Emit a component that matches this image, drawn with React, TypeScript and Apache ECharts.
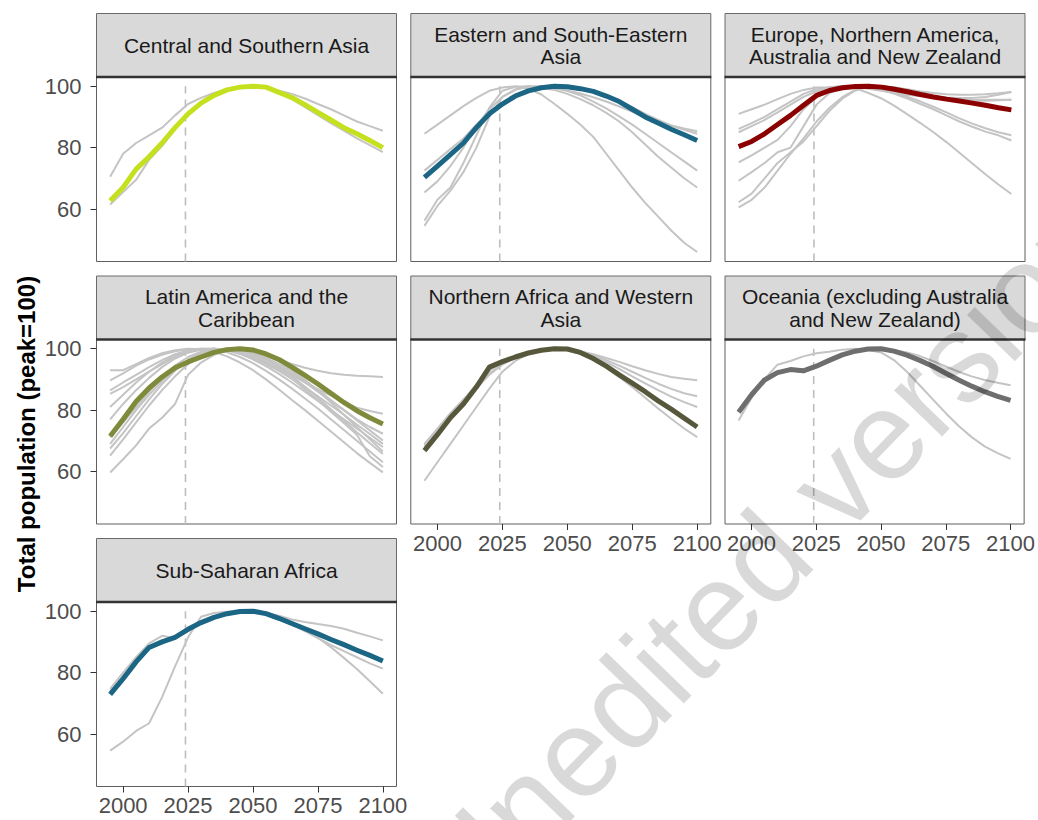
import React, { useEffect, useRef } from "react";
import * as echarts from "echarts";

// ---------- data ----------
const YEARS = [1995, 2000, 2005, 2010, 2015, 2020, 2025, 2030, 2035, 2040, 2045, 2050, 2055, 2060, 2065, 2070, 2075, 2080, 2085, 2090, 2095, 2100];
const BASE_YEAR = 2024;
const X_TICKS = [2000, 2025, 2050, 2075, 2100];
const Y_TICKS = [60, 80, 100];

// Central and Southern Asia
const csaMain = [62.7, 67, 73, 77, 81.5, 86.5, 91, 94.5, 97, 98.8, 99.7, 100, 99.7, 98, 96.3, 94, 91.5, 89, 86.5, 84.5, 82.3, 80];
const csaG1 = [70.5, 78, 81.5, 84, 86.5, 90.5, 94.2, 96.2, 97.8, 99, 99.7, 100, 99.5, 98.5, 97.5, 96, 94.2, 92.5, 90.5, 88.5, 87, 85.5];
const csaG2 = [61.5, 65.5, 69.5, 76, 80.5, 86, 91, 94.5, 97, 98.8, 99.7, 100, 99.6, 98, 95.8, 93.2, 90.6, 88, 85.5, 83, 80.8, 78.5];

// Eastern and South-Eastern Asia
const eseMain = [70.3, 74, 77.7, 81.5, 86.5, 91, 94.2, 96.8, 98.5, 99.5, 100, 99.8, 99.2, 98.3, 96.8, 95, 92.5, 90, 88, 86, 84.2, 82.3];
const eseG1 = [84.5, 87.5, 90.5, 93.5, 96.2, 98.5, 99.6, 100, 99.2, 97.3, 94.3, 91, 87.5, 83.5, 78, 72.5, 67, 62, 57.5, 53, 49, 46];
const eseG2 = [56.2, 63, 67, 75, 84, 93, 98.5, 99.8, 100, 99.6, 98.8, 97.5, 95.8, 93.8, 91.3, 88.5, 85, 81, 77, 73.5, 70, 67];
const eseG3 = [65.4, 69, 74, 80, 87, 92.5, 96.5, 98.8, 99.8, 100, 99.5, 98.4, 97, 95, 92.8, 90.2, 87.5, 84.5, 81.5, 78.5, 75.5, 72.5];
const eseG4 = [72.5, 76, 79.5, 83, 87.5, 91.5, 94.7, 97, 98.6, 99.6, 100, 99.9, 99.3, 98.4, 97, 95.3, 93.2, 91, 89, 87.2, 85.8, 84.5];
const eseG5 = [54.5, 61, 66, 72, 80, 90, 96.5, 99, 100, 99.8, 99.3, 98.6, 97.6, 96.4, 95, 93.4, 91.7, 90, 88.5, 87.2, 86.2, 85.3];

// Europe, Northern America, Australia and New Zealand
const enaMain = [80.3, 82, 84.5, 87.5, 90.5, 93.8, 97, 98.6, 99.5, 99.9, 100, 99.7, 99, 98.2, 97.3, 96.5, 95.8, 95.2, 94.5, 93.8, 93, 92.3];
const enaG1 = [91, 92.5, 94, 95.8, 97.5, 98.8, 99.6, 99.7, 100, 99.3, 97.8, 96, 93.6, 90.8, 88, 85, 81.8, 78.3, 74.8, 71.3, 68, 64.9];
const enaG2 = [86.1, 88, 90, 92.5, 95, 97.5, 99, 99.7, 100, 99.8, 99.3, 98.7, 98, 97.3, 96.8, 96.5, 96.3, 96.2, 96.2, 96.5, 97.2, 98.1];
const enaG3 = [85, 87, 89, 91.5, 94, 96.5, 98.3, 99.5, 100, 99.8, 99.2, 98.5, 97.8, 97.2, 96.8, 96.4, 96.1, 95.9, 95.7, 95.6, 95.6, 95.6];
const enaG4 = [75.2, 77.5, 80, 82.5, 87, 92.5, 96.5, 98.8, 99.8, 100, 99.6, 98.8, 97.5, 96, 94.2, 92.5, 90.5, 88.5, 86.8, 85.2, 84, 82.3];
const enaG5 = [69.2, 72, 75, 78.5, 80, 87, 94, 97.8, 99.5, 100, 99.8, 99, 98, 96.6, 95, 93.3, 91.5, 89.5, 87.8, 86.3, 85, 84];
const enaG6 = [62.2, 65, 70, 75, 78.5, 82, 87, 92, 96, 98.6, 99.8, 100, 99.6, 98.8, 97.8, 96.8, 96, 95.5, 95.3, 95.3, 95.4, 95.6];
const enaG7 = [60.5, 63, 67, 72.5, 78, 83, 88.5, 93, 96.5, 98.8, 99.8, 100, 99.6, 99, 98.3, 97.8, 97.4, 97.2, 97.2, 97.4, 97.7, 98.1];

// Latin America and the Caribbean
const lacMain = [71.5, 77, 82.8, 87.2, 90.8, 93.8, 95.7, 97.3, 98.8, 99.7, 100, 99.6, 98.3, 96.5, 94, 91.3, 88.5, 85.5, 82.5, 79.8, 77.5, 75.5];
const lacG1 = [93, 93, 95, 97, 98.5, 99.5, 100, 99.8, 99, 97.5, 95.5, 93, 90, 86.7, 83.3, 80, 76.5, 73, 69.5, 66, 62.8, 59.7];
const lacG2 = [89.7, 92, 94.5, 96.5, 98, 99.2, 99.8, 100, 99.7, 98.8, 97.3, 95.3, 92.8, 90, 87, 83.8, 80.5, 77, 73.5, 70, 66.5, 63];
const lacG3 = [86.4, 89, 91.5, 94, 96.3, 98.2, 99.4, 100, 100, 99.5, 98.5, 97, 95, 92.8, 90.2, 87.5, 84.5, 81.5, 78.5, 75.3, 72.2, 69];
const lacG4 = [85.3, 87.5, 90, 92.5, 95, 97.3, 98.8, 99.7, 100, 99.8, 99.3, 98.5, 97.5, 96.3, 95, 93.8, 92.8, 92, 91.5, 91.2, 91, 90.8];
const lacG5 = [81, 85, 89, 92.5, 95.5, 97.8, 99.2, 99.9, 100, 99.5, 98.3, 96.5, 94.3, 91.8, 89, 86, 83, 80, 77, 74, 71, 68];
const lacG6 = [71.2, 76, 81, 86, 90.5, 94.5, 97.3, 99, 99.8, 100, 99.5, 98.3, 96.5, 94.3, 91.8, 89, 86, 83, 80, 77, 74.5, 72.3];
const lacG7 = [69, 74.5, 80, 85, 89.5, 93.5, 96.5, 98.5, 99.6, 100, 99.6, 98.6, 97, 95, 92.5, 89.6, 86.5, 83.3, 80, 76.7, 73.4, 70.1];
const lacG8 = [65.2, 70.5, 76, 81.5, 86.5, 91, 95, 97.8, 99.4, 100, 99.7, 98.5, 96.5, 94, 91, 87.6, 84, 80.3, 76.5, 72.8, 69.2, 65.7];
const lacG9 = [59.7, 64, 68.5, 74, 77.5, 82, 91.5, 95.5, 98, 99.5, 100, 99.5, 98, 95.8, 93, 89.8, 86.3, 82.5, 78.5, 74.5, 70.5, 66.5];
const lacG10 = [77, 82, 86.5, 90.5, 94, 96.8, 98.7, 99.7, 100, 99.6, 98.7, 97.3, 95.5, 93.5, 91.3, 89, 86.8, 84.7, 82.7, 80.8, 79.7, 78.8];
const lacG11 = [67.5, 72.5, 78, 83.5, 88.5, 92.8, 96.2, 98.4, 99.6, 100, 99.4, 97.9, 95.8, 93.2, 90.2, 86.8, 83.2, 79.5, 75.8, 72, 65, 61.5];

// Northern Africa and Western Asia
const nawaMain = [66.8, 72, 77.5, 82, 87.5, 94, 95.8, 97.3, 98.6, 99.5, 100, 99.9, 98.8, 96.8, 94.3, 91.5, 88.8, 86, 83, 80.3, 77.4, 74.5];
const nawaG1 = [57, 63, 69, 75, 81, 87, 92.5, 96, 98.3, 99.5, 100, 99.6, 98.3, 96.3, 93.8, 90.8, 87.5, 84, 80.5, 77.2, 74, 71.2];
const nawaG2 = [68, 73, 78, 82.5, 87, 91.5, 94.8, 97, 98.6, 99.6, 100, 99.8, 99.2, 98.2, 97, 95.7, 94.3, 93, 91.8, 90.8, 90.2, 89.7];
const nawaG3 = [69, 74, 79, 83.5, 88, 92, 95, 97.2, 98.7, 99.6, 100, 99.8, 99, 97.8, 96.3, 94.5, 92.5, 90.5, 88.6, 86.9, 85.5, 84.5];
const nawaG4 = [68.5, 73.5, 78.5, 83, 88.5, 93, 95.5, 97.3, 98.7, 99.6, 100, 99.8, 98.9, 97.4, 95.6, 93.4, 91, 88.7, 86.5, 84.4, 82.6, 81];

// Oceania (excluding Australia and New Zealand)
const oceMain = [79.3, 85, 89.8, 92.2, 93.2, 92.8, 94.3, 96.2, 98, 99.2, 99.9, 100, 99.2, 97.9, 96.2, 94.3, 92, 89.8, 87.8, 86, 84.5, 83.2];
const oceG1 = [76.6, 84, 90, 94.8, 96, 97.5, 98.5, 99, 99.7, 100, 99.6, 98.8, 96.3, 92.5, 88, 83.5, 79, 74.8, 71.2, 68.2, 66, 64.1];
const oceG2 = [80, 85.5, 90, 92, 93, 92.3, 94, 96, 97.8, 99, 99.8, 100, 99.6, 98.8, 97.6, 96, 94.2, 92.5, 91, 89.8, 88.9, 88.1];

// Sub-Saharan Africa
const ssaMain = [72.9, 78, 83.5, 88.2, 90, 91.5, 94.1, 96.3, 98, 99.2, 99.9, 100, 99.2, 97.7, 96, 94.3, 92.6, 90.8, 89.1, 87.3, 85.6, 83.8];
const ssaG1 = [54.6, 57.5, 61, 63.5, 72, 82, 91.5, 98.2, 99.4, 99.8, 100, 99.8, 98.8, 97.2, 95.5, 93.6, 91.4, 88.3, 84.8, 81.2, 77.2, 73.1];
const ssaG2 = [74.7, 80, 85, 89.5, 92, 91.2, 93.5, 96, 98, 99.3, 99.9, 100, 99.5, 98.5, 97.3, 96.5, 95.8, 95.2, 94.3, 93, 91.8, 90.5];
const ssaG3 = [74, 79, 84, 88.5, 90.5, 91.2, 93.8, 96.2, 98, 99.2, 99.9, 100, 99.3, 97.8, 95.8, 93.5, 91.2, 89, 87, 85, 83, 81.3];

const PANELS = [
  { title: "Central and Southern Asia", color: "#c5e01e", main: csaMain, greys: [csaG1, csaG2] },
  { title: "Eastern and South-Eastern\nAsia", color: "#1b6585", main: eseMain, greys: [eseG1, eseG2, eseG3, eseG4, eseG5] },
  { title: "Europe, Northern America,\nAustralia and New Zealand", color: "#8b0000", main: enaMain, greys: [enaG1, enaG2, enaG3, enaG4, enaG5, enaG6, enaG7] },
  { title: "Latin America and the\nCaribbean", color: "#7f8a3b", main: lacMain, greys: [lacG1, lacG2, lacG3, lacG4, lacG5, lacG6, lacG7, lacG8, lacG9, lacG10, lacG11] },
  { title: "Northern Africa and Western\nAsia", color: "#57583b", main: nawaMain, greys: [nawaG1, nawaG2, nawaG3, nawaG4] },
  { title: "Oceania (excluding Australia\nand New Zealand)", color: "#6e6e6e", main: oceMain, greys: [oceG1, oceG2] },
  { title: "Sub-Saharan Africa", color: "#1b6585", main: ssaMain, greys: [ssaG1, ssaG2, ssaG3] },
];

// ---------- layout ----------
const X_MIN = 1989.75;
const X_MAX = 2105.25;
const Y_MIN = 42.9;
const Y_MAX = 103;
const COL_LEFT = [96.5, 410.8, 725];
const ROW_TOP = [77, 339.5, 602];
const PLOT_W = 300;
const PLOT_H = 184.5;
const STRIP_H = 63.5;
const FONT = '"Liberation Sans", Arial, sans-serif';

const toPoints = (vals: number[]) => YEARS.map((y, i) => [y, vals[i]]);

export default function App() {
  const ref = useRef<HTMLDivElement>(null);

  useEffect(() => {
    if (!ref.current) return;
    const chart = echarts.init(ref.current, null, { renderer: "svg" });

    const grids: any[] = [];
    const xAxes: any[] = [];
    const yAxes: any[] = [];
    const series: any[] = [];
    const graphics: any[] = [];

    PANELS.forEach((p, i) => {
      const r = Math.floor(i / 3);
      const c = i % 3;
      const left = COL_LEFT[c];
      const top = ROW_TOP[r];
      const showX = i >= 4;
      const showY = c === 0;

      grids.push({
        left,
        top,
        width: PLOT_W,
        height: PLOT_H,
        show: true,
        backgroundColor: "#ffffff",
        borderColor: "#5f5f5f",
        borderWidth: 1,
        containLabel: false,
      });

      xAxes.push({
        type: "value",
        gridIndex: i,
        min: X_MIN,
        max: X_MAX,
        axisLine: { show: false },
        splitLine: { show: false },
        axisTick: {
          show: showX,
          customValues: X_TICKS,
          length: 6,
          lineStyle: { color: "#333333", width: 1 },
        },
        axisLabel: {
          show: showX,
          customValues: X_TICKS,
          formatter: (v: number) => String(Math.round(v)),
          color: "#4d4d4d",
          fontSize: 22,
          fontFamily: FONT,
          margin: 8,
        },
      });

      yAxes.push({
        type: "value",
        gridIndex: i,
        min: Y_MIN,
        max: Y_MAX,
        axisLine: { show: false },
        splitLine: { show: false },
        axisTick: {
          show: showY,
          customValues: Y_TICKS,
          length: 6,
          lineStyle: { color: "#333333", width: 1 },
        },
        axisLabel: {
          show: showY,
          customValues: Y_TICKS,
          formatter: (v: number) => String(Math.round(v)),
          color: "#4d4d4d",
          fontSize: 22,
          fontFamily: FONT,
          margin: 15,
        },
      });

      // reference year dashed line
      series.push({
        type: "line",
        xAxisIndex: i,
        yAxisIndex: i,
        data: [
          [BASE_YEAR, Y_MIN],
          [BASE_YEAR, 100],
        ],
        showSymbol: false,
        symbol: "none",
        silent: true,
        z: 1,
        lineStyle: { color: "#bdbdbd", width: 1.6, type: [8, 6] },
      });

      p.greys.forEach((g) => {
        series.push({
          type: "line",
          xAxisIndex: i,
          yAxisIndex: i,
          data: toPoints(g),
          showSymbol: false,
          symbol: "none",
          silent: true,
          z: 2,
          lineStyle: { color: "#c4c4c4", width: 2 },
        });
      });

      series.push({
        type: "line",
        xAxisIndex: i,
        yAxisIndex: i,
        data: toPoints(p.main),
        showSymbol: false,
        symbol: "none",
        silent: true,
        z: 3,
        lineStyle: { color: p.color, width: 5, join: "round" },
      });

      // strip
      const stripTop = top - STRIP_H;
      graphics.push({
        type: "rect",
        shape: { x: left, y: stripTop, width: PLOT_W, height: STRIP_H },
        style: { fill: "#d9d9d9", stroke: "#6a6a6a", lineWidth: 1 },
        z: 50,
        silent: true,
      });
      graphics.push({
        type: "line",
        shape: { x1: left - 0.5, y1: top, x2: left + PLOT_W + 0.5, y2: top },
        style: { stroke: "#333333", lineWidth: 2.5 },
        z: 51,
        silent: true,
      });
      graphics.push({
        type: "text",
        x: left + PLOT_W / 2,
        y: stripTop + STRIP_H / 2,
        z: 52,
        silent: true,
        style: {
          text: p.title,
          fill: "#1a1a1a",
          fontSize: 21,
          fontFamily: FONT,
          lineHeight: 22.5,
          align: "center",
          verticalAlign: "middle",
        },
      });
    });

    // y axis title
    graphics.push({
      type: "text",
      x: 26,
      y: 434,
      rotation: Math.PI / 2,
      z: 60,
      silent: true,
      style: {
        text: "Total population (peak=100)",
        fill: "#000000",
        fontSize: 24,
        fontWeight: "bold",
        fontFamily: FONT,
        align: "center",
        verticalAlign: "middle",
      },
    });

    // watermark
    graphics.push({
      type: "text",
      x: 766,
      y: 556,
      rotation: (46 * Math.PI) / 180,
      z: 200,
      silent: true,
      style: {
        text: "Unedited version",
        fill: "rgba(0,0,0,0.15)",
        fontSize: 126,
        fontFamily: FONT,
        align: "center",
        verticalAlign: "middle",
      },
    });

    chart.setOption({
      animation: false,
      backgroundColor: "#ffffff",
      grid: grids,
      xAxis: xAxes,
      yAxis: yAxes,
      series,
      graphic: { elements: graphics },
    });

    return () => chart.dispose();
  }, []);

  return (
    <div
      ref={ref}
      style={{ position: "fixed", left: 0, top: 0, width: 1038, height: 820 }}
    />
  );
}
